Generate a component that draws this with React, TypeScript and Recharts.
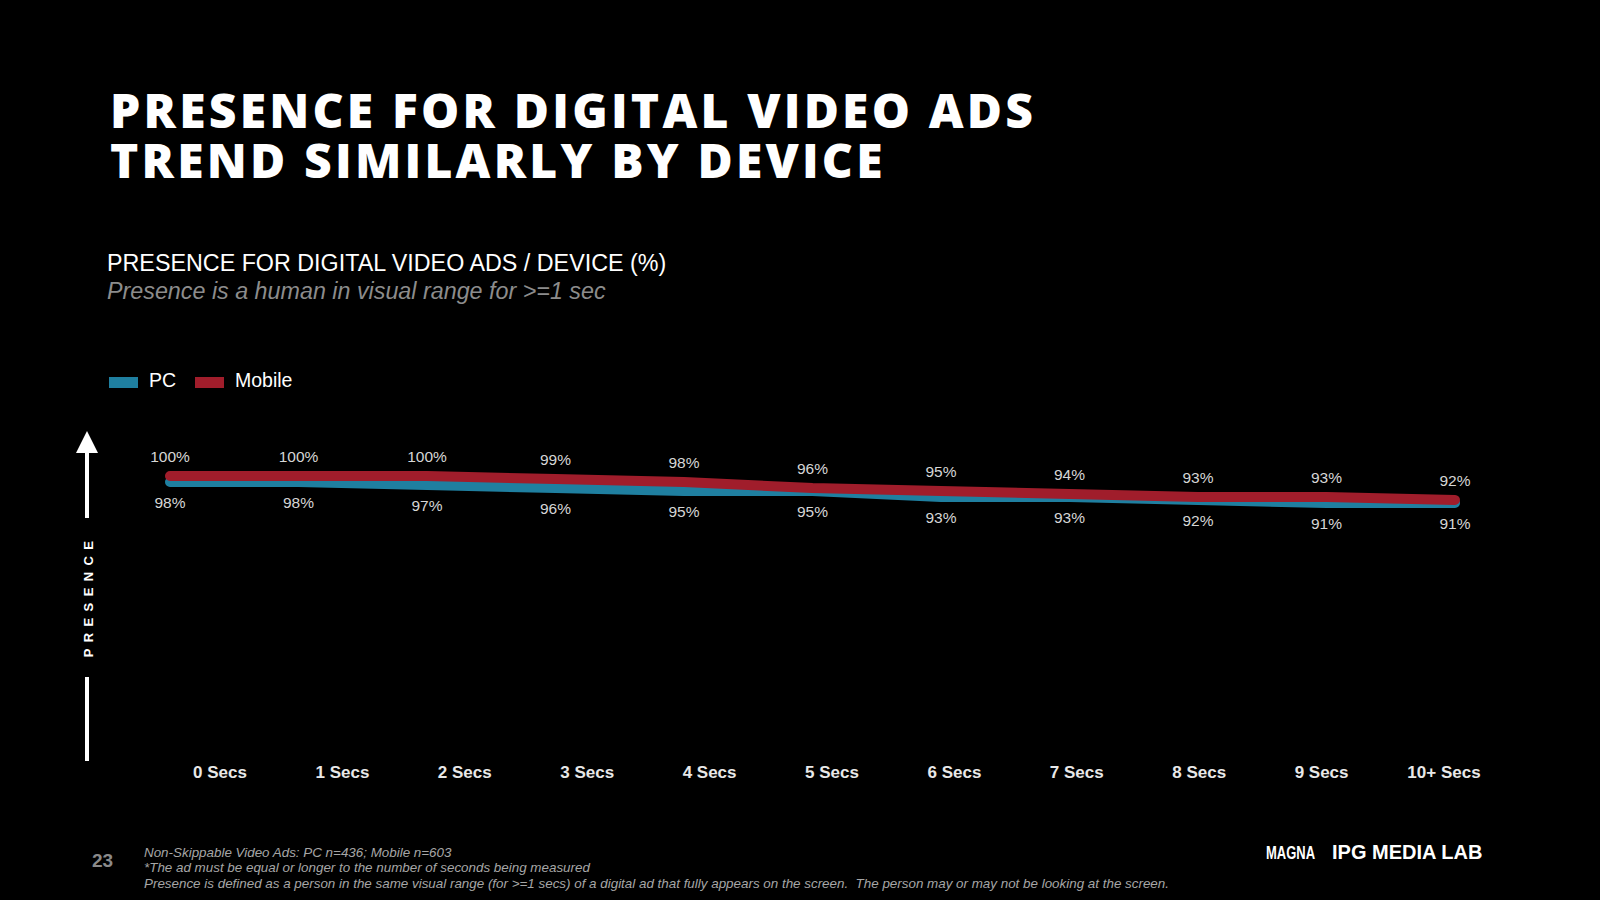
import { LabelList, Line, LineChart, XAxis, YAxis } from "recharts";

const seconds = ["0 Secs", "1 Secs", "2 Secs", "3 Secs", "4 Secs", "5 Secs", "6 Secs", "7 Secs", "8 Secs", "9 Secs", "10+ Secs"];
const pcValues = [98, 98, 97, 96, 95, 95, 93, 93, 92, 91, 91];
const mobileValues = [100, 100, 100, 99, 98, 96, 95, 94, 93, 93, 92];

const seriesNames = { pc: "PC", mobile: "Mobile" };
const titleLines = ["PRESENCE FOR DIGITAL VIDEO ADS", "TREND SIMILARLY BY DEVICE"];
const chartTitle = "PRESENCE FOR DIGITAL VIDEO ADS / DEVICE (%)";
const chartSubtitle = "Presence is a human in visual range for >=1 sec";
const footnotes = [
  "Non-Skippable Video Ads: PC n=436; Mobile n=603",
  "*The ad must be equal or longer to the number of seconds being measured",
  "Presence is defined as a person in the same visual range (for >=1 secs) of a digital ad that fully appears on the screen.  The person may or may not be looking at the screen.",
];

const PC_COLOR = "#1f7fa0";
const MOBILE_COLOR = "#a01d2b";
const SANS = "'Liberation Sans', Arial, sans-serif";

const data = seconds.map((sec, i) => ({ sec, pc: pcValues[i], mobile: mobileValues[i] }));

const pct = (v: any) => `${v}%`;

const SecTick = (props: any) => (
  <text x={props.x} y={props.y} dy={2} textAnchor="middle" fill="#e8e8e8" fontSize={17} fontWeight={700} fontFamily={SANS}>
    {props.payload.value}
  </text>
);

export default function App() {
  return (
    <div style={{ position: "absolute", left: 0, top: 0, width: 1600, height: 900, background: "#000", overflow: "hidden" }}>
      <svg width={1600} height={900} style={{ position: "absolute", left: 0, top: 0 }}>
        <text x={110} y={128} fill="#fff" fontSize={48} fontWeight={800} letterSpacing={3.2} fontFamily="'Open Sans', sans-serif">
          {titleLines[0]}
        </text>
        <text x={110} y={178} fill="#fff" fontSize={48} fontWeight={800} letterSpacing={3.2} fontFamily="'Open Sans', sans-serif">
          {titleLines[1]}
        </text>
        <text x={107} y={271} fill="#fff" fontSize={23.3} fontFamily={SANS}>
          {chartTitle}
        </text>
        <text x={107} y={299} fill="#8c8c8c" fontSize={23.3} fontStyle="italic" fontFamily={SANS}>
          {chartSubtitle}
        </text>

        {/* legend */}
        <rect x={109} y={377} width={29} height={11} fill={PC_COLOR} />
        <text x={149} y={387} fill="#fff" fontSize={19.5} fontFamily={SANS}>{seriesNames.pc}</text>
        <rect x={195} y={377} width={29} height={11} fill={MOBILE_COLOR} />
        <text x={235} y={387} fill="#fff" fontSize={19.5} fontFamily={SANS}>{seriesNames.mobile}</text>

        {/* presence axis */}
        <polygon points="87,431 76,453 98,453" fill="#fff" />
        <rect x={85} y={452} width={4} height={66} fill="#fff" />
        <text
          x={0}
          y={0}
          transform="translate(93,596) rotate(-90)"
          textAnchor="middle"
          fill="#fff"
          fontSize={13}
          fontWeight={700}
          letterSpacing={6.4}
          fontFamily={SANS}
        >
          PRESENCE
        </text>
        <rect x={85} y={677} width={4} height={84} fill="#fff" />

        {/* footer */}
        <text x={92} y={867} fill="#8a8a8a" fontSize={19} fontWeight={700} fontFamily={SANS}>23</text>
        {footnotes.map((f, i) => (
          <text
            key={i}
            x={144}
            y={857 + i * 15.3}
            fill="#a6a6a6"
            fontSize={13.4}
            fontStyle="italic"
            fontFamily={SANS}
            style={{ whiteSpace: "pre" }}
          >
            {f}
          </text>
        ))}
        <text x={1266} y={859} fill="#fff" fontSize={19} fontWeight={700} textLength={49} lengthAdjust="spacingAndGlyphs" fontFamily={SANS}>
          MAGNA
        </text>
        <text x={1332} y={859} fill="#fff" fontSize={20} fontWeight={700} fontFamily={SANS}>IPG MEDIA LAB</text>
      </svg>

      <div style={{ position: "absolute", left: 0, top: 0 }}>
        <LineChart width={1600} height={900} data={data} margin={{ top: 476, right: 145, bottom: 94, left: 170 }}>
          <XAxis xAxisId="pts" dataKey="sec" hide padding={{ left: 0, right: 0 }} />
          <XAxis
            xAxisId="lbl"
            dataKey="sec"
            axisLine={false}
            tickLine={false}
            tickSize={0}
            tickMargin={0}
            height={30}
            interval={0}
            padding={{ left: 50, right: 11 }}
            tick={<SecTick />}
          />
          <YAxis hide domain={[0, 100]} />
          <Line
            xAxisId="pts"
            type="linear"
            dataKey="pc"
            name={seriesNames.pc}
            stroke={PC_COLOR}
            strokeWidth={10}
            strokeLinecap="round"
            strokeLinejoin="round"
            dot={false}
            isAnimationActive={false}
          >
            <LabelList dataKey="pc" position="bottom" offset={15} fill="#d6d6d6" fontSize={15.5} fontFamily={SANS} formatter={pct} />
          </Line>
          <Line
            xAxisId="pts"
            type="linear"
            dataKey="mobile"
            name={seriesNames.mobile}
            stroke={MOBILE_COLOR}
            strokeWidth={10}
            strokeLinecap="round"
            strokeLinejoin="round"
            dot={false}
            isAnimationActive={false}
          >
            <LabelList dataKey="mobile" position="top" offset={14} fill="#d6d6d6" fontSize={15.5} fontFamily={SANS} formatter={pct} />
          </Line>
        </LineChart>
      </div>
    </div>
  );
}
